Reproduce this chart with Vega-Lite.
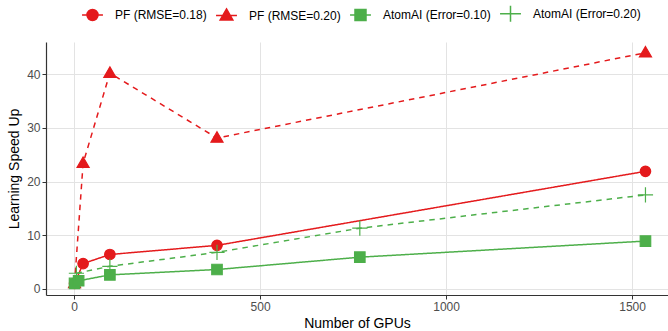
{
  "$schema": "https://vega.github.io/schema/vega-lite/v6.json",
  "width": 622,
  "height": 253,
  "autosize": {"type": "none"},
  "padding": {"left": 46, "top": 42, "right": 0, "bottom": 36},
  "background": "white",
  "config": {
    "font": "Liberation Sans",
    "view": {"stroke": null},
    "axis": {
      "domainColor": "#333333",
      "domainWidth": 1.2,
      "tickColor": "#333333",
      "tickSize": 4,
      "labelColor": "#4d4d4d",
      "labelFontSize": 12,
      "labelPadding": 2,
      "titleFontSize": 14,
      "titleFontWeight": "normal",
      "titleColor": "#000000",
      "gridColor": "#e3e3e3",
      "gridWidth": 1
    },
    "legend": {
      "orient": "none",
      "legendX": 40,
      "legendY": -35,
      "direction": "horizontal",
      "labelFontSize": 12,
      "labelColor": "#000000",
      "symbolSize": 121,
      "labelOffset": 16,
      "columnPadding": 6,
      "symbolStrokeWidth": 1.5
    }
  },
  "data": {
    "values": [
      {"series": "PF (RMSE=0.18)", "gpus": 1, "speedup": 1.0},
      {"series": "PF (RMSE=0.18)", "gpus": 24, "speedup": 4.7},
      {"series": "PF (RMSE=0.18)", "gpus": 96, "speedup": 6.4},
      {"series": "PF (RMSE=0.18)", "gpus": 384, "speedup": 8.1},
      {"series": "PF (RMSE=0.18)", "gpus": 1536, "speedup": 21.9},
      {"series": "PF (RMSE=0.20)", "gpus": 1, "speedup": 1.0},
      {"series": "PF (RMSE=0.20)", "gpus": 24, "speedup": 23.4},
      {"series": "PF (RMSE=0.20)", "gpus": 96, "speedup": 40.2},
      {"series": "PF (RMSE=0.20)", "gpus": 384, "speedup": 28.1},
      {"series": "PF (RMSE=0.20)", "gpus": 1536, "speedup": 44.0},
      {"series": "AtomAI (Error=0.10)", "gpus": 1, "speedup": 1.0},
      {"series": "AtomAI (Error=0.10)", "gpus": 12, "speedup": 1.5},
      {"series": "AtomAI (Error=0.10)", "gpus": 96, "speedup": 2.6},
      {"series": "AtomAI (Error=0.10)", "gpus": 384, "speedup": 3.6},
      {"series": "AtomAI (Error=0.10)", "gpus": 768, "speedup": 5.9},
      {"series": "AtomAI (Error=0.10)", "gpus": 1536, "speedup": 8.9},
      {"series": "AtomAI (Error=0.20)", "gpus": 6, "speedup": 2.9},
      {"series": "AtomAI (Error=0.20)", "gpus": 96, "speedup": 4.2},
      {"series": "AtomAI (Error=0.20)", "gpus": 384, "speedup": 6.8},
      {"series": "AtomAI (Error=0.20)", "gpus": 768, "speedup": 11.3},
      {"series": "AtomAI (Error=0.20)", "gpus": 1536, "speedup": 17.5}
    ]
  },
  "encoding": {
    "x": {
      "field": "gpus",
      "type": "quantitative",
      "scale": {"domain": [-75.75, 1596.6], "nice": false, "zero": false},
      "axis": {"values": [0, 500, 1000, 1500], "format": "d", "title": "Number of GPUs", "titlePadding": 4}
    },
    "y": {
      "field": "speedup",
      "type": "quantitative",
      "scale": {"domain": [-1.15, 46.0], "nice": false, "zero": false},
      "axis": {"values": [0, 10, 20, 30, 40], "title": "Learning Speed Up", "titlePadding": 5}
    }
  },
  "layer": [
    {
      "mark": {"type": "line", "strokeWidth": 1.5},
      "encoding": {
        "stroke": {
          "field": "series", "type": "nominal",
          "scale": {"domain": ["PF (RMSE=0.18)", "PF (RMSE=0.20)", "AtomAI (Error=0.10)", "AtomAI (Error=0.20)"], "range": ["#E41A1C", "#E41A1C", "#4DAF4A", "#4DAF4A"]},
          "legend": null
        },
        "strokeDash": {
          "field": "series", "type": "nominal",
          "scale": {"domain": ["PF (RMSE=0.18)", "PF (RMSE=0.20)", "AtomAI (Error=0.10)", "AtomAI (Error=0.20)"], "range": [[1, 0], [5.5, 5], [1, 0], [5.5, 5]]},
          "legend": null
        }
      }
    },
    {
      "mark": {"type": "point", "filled": true, "opacity": 1, "strokeWidth": 1.2},
      "encoding": {
        "fill": {
          "field": "series", "type": "nominal",
          "scale": {"domain": ["PF (RMSE=0.18)", "PF (RMSE=0.20)", "AtomAI (Error=0.10)", "AtomAI (Error=0.20)"], "range": ["#E41A1C", "#E41A1C", "#4DAF4A", "#4DAF4A"]},
          "legend": null
        },
        "stroke": {
          "field": "series", "type": "nominal",
          "scale": {"domain": ["PF (RMSE=0.18)", "PF (RMSE=0.20)", "AtomAI (Error=0.10)", "AtomAI (Error=0.20)"], "range": ["#E41A1C", "#E41A1C", "#4DAF4A", "#4DAF4A"]},
          "legend": null
        },
        "shape": {
          "field": "series", "type": "nominal",
          "scale": {"domain": ["PF (RMSE=0.18)", "PF (RMSE=0.20)", "AtomAI (Error=0.10)", "AtomAI (Error=0.20)"], "range": ["M1,0A1,1,0,1,1,-1,0A1,1,0,1,1,1,0Z", "M0,-1.2L1.15,0.8L-1.15,0.8Z", "M-1,-1H1V1H-1Z", "M-1.45,0H1.45M0,-1.45V1.45"]},
          "legend": null
        },
        "size": {"value": 110}
      }
    },
    {
      "transform": [{"filter": "false"}],
      "mark": {"type": "point", "filled": true, "opacity": 1, "strokeWidth": 1.5},
      "encoding": {
        "fill": {
          "field": "series", "type": "nominal",
          "scale": {"domain": ["PF (RMSE=0.18)", "PF (RMSE=0.20)", "AtomAI (Error=0.10)", "AtomAI (Error=0.20)"], "range": ["#E41A1C", "#E41A1C", "#4DAF4A", "#4DAF4A"]},
          "legend": {"title": null}
        },
        "stroke": {
          "field": "series", "type": "nominal",
          "scale": {"domain": ["PF (RMSE=0.18)", "PF (RMSE=0.20)", "AtomAI (Error=0.10)", "AtomAI (Error=0.20)"], "range": ["#E41A1C", "#E41A1C", "#4DAF4A", "#4DAF4A"]},
          "legend": {"title": null}
        },
        "shape": {
          "field": "series", "type": "nominal",
          "scale": {"domain": ["PF (RMSE=0.18)", "PF (RMSE=0.20)", "AtomAI (Error=0.10)", "AtomAI (Error=0.20)"], "range": ["M-1.9,0H1.9M1,0A1,1,0,1,1,-1,0A1,1,0,1,1,1,0Z", "M-1.9,0H1.9M0,-1.2L1.15,0.8L-1.15,0.8Z", "M-1.9,0H1.9M-1,-1H1V1H-1Z", "M-1.9,0H1.9M0,-1.45V1.45"]},
          "legend": {"title": null}
        }
      }
    }
  ],
  "resolve": {"scale": {"fill": "independent", "stroke": "independent", "strokeDash": "independent", "shape": "independent"}}
}
